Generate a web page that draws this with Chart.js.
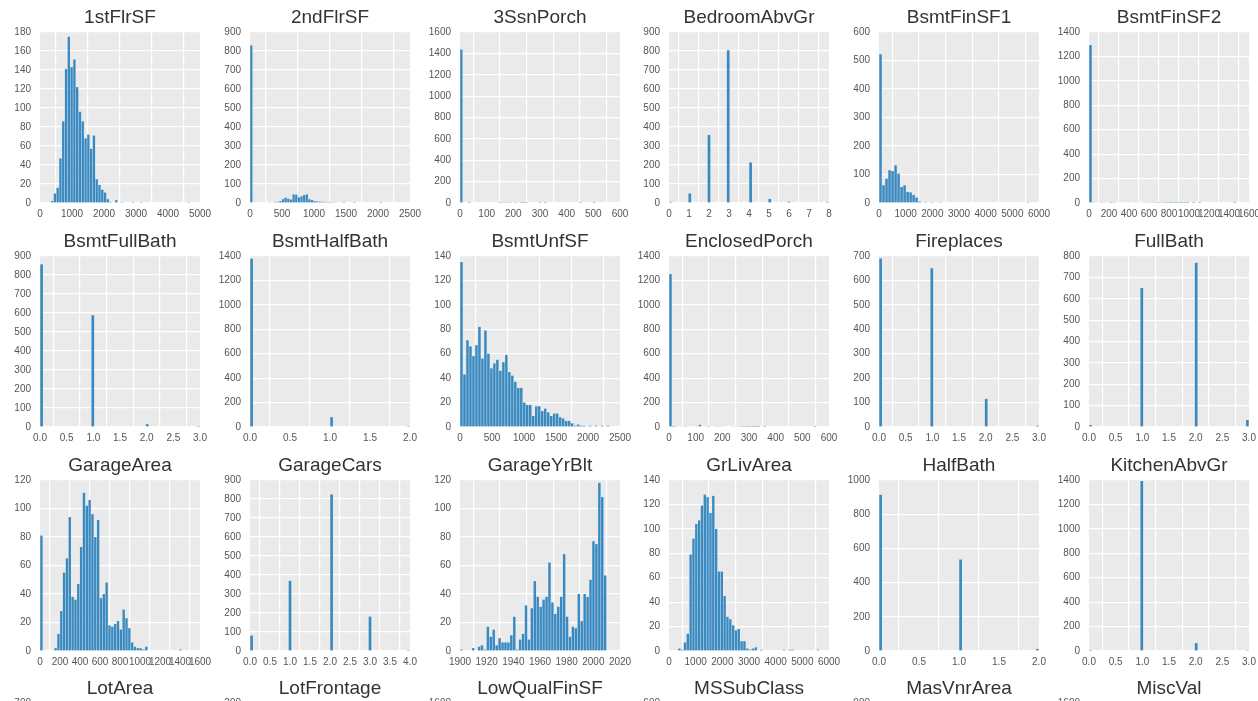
<!DOCTYPE html>
<html>
<head>
<meta charset="utf-8">
<script src="https://cdn.jsdelivr.net/npm/chart.js@4.4.1/dist/chart.umd.min.js"></script>
<style>
  html, body { margin: 0; padding: 0; background: #fff; }
  #fig { position: relative; width: 1258px; height: 701px; overflow: hidden; }
  #fig canvas { position: absolute; }
</style>
</head>
<body>
<div id="fig"></div>
<script>
// --- data: one histogram (50 bins over [min, max]) per column ---
const names = [
  "1stFlrSF", "2ndFlrSF", "3SsnPorch", "BedroomAbvGr", "BsmtFinSF1", "BsmtFinSF2",
  "BsmtFullBath", "BsmtHalfBath", "BsmtUnfSF", "EnclosedPorch", "Fireplaces", "FullBath",
  "GarageArea", "GarageCars", "GarageYrBlt", "GrLivArea", "HalfBath", "KitchenAbvGr",
  "LotArea", "LotFrontage", "LowQualFinSF", "MSSubClass", "MasVnrArea", "MiscVal",
];
const dataMin = [334, 0, 0, 0, 0, 0, 0, 0, 0, 0, 0, 0, 0, 0, 1900, 334, 0, 0, 1300, 21, 0, 20, 0, 0];
const dataMax = [4692, 2065, 508, 8, 5644, 1474, 3, 2, 2336, 552, 3, 3, 1418, 4, 2010, 5642, 2, 3, 215245, 313, 572, 190, 1600, 15500];
// x axis [min, max, step]
const xTicks = [
  [0, 5000, 1000], [0, 2500, 500], [0, 600, 100], [0, 8, 1], [0, 6000, 1000], [0, 1600, 200],
  [0, 3, 0.5], [0, 2, 0.5], [0, 2500, 500], [0, 600, 100], [0, 3, 0.5], [0, 3, 0.5],
  [0, 1600, 200], [0, 4, 0.5], [1900, 2020, 20], [0, 6000, 1000], [0, 2, 0.5], [0, 3, 0.5],
  [0, 250000, 50000], [0, 350, 50], [0, 600, 100], [0, 200, 20], [0, 1600, 200], [0, 16000, 2000],
];
// y axis [max, step]
const yTicks = [
  [180, 20], [900, 100], [1600, 200], [900, 100], [600, 100], [1400, 200],
  [900, 100], [1400, 200], [140, 20], [1400, 200], [700, 100], [800, 100],
  [120, 20], [900, 100], [120, 20], [140, 20], [1000, 200], [1400, 200],
  [700, 100], [200, 50], [1600, 200], [600, 100], [900, 100], [1600, 200],
];

const c1stFlrSF = [2,10,16,47,86,141,175,143,151,122, 96,86,68,72,57,71,25,19,14,11, 4,1,0,3,0,1,0,0,0,1, 0,0,1,0,0,0,0,0,0,0, 0,0,0,0,0,0,0,0,0,1];
const c2ndFlrSF = [829,0,0,0,0,0,0,2,3,5, 6,10,20,28,22,18,45,44,30,35, 42,45,20,15,10,8,7,6,5,5, 5,4,4,3,0,1,0,0,0,1, 0,0,0,0,0,0,0,0,0,1];
const c3SsnPorch = [1436,0,0,1,0,0,0,0,0,0, 0,0,0,0,2,3,4,3,2,0, 2,0,2,1,1,0,0,0,0,1, 0,1,0,0,0,0,0,0,0,0, 0,0,0,0,1,0,0,0,0,1];
const cBedroomAbvGr = [6,0,0,0,0,0,50,0,0,0, 0,0,358,0,0,0,0,0,804,0, 0,0,0,0,0,213,0,0,0,0, 0,21,0,0,0,0,0,7,0,0, 0,0,0,0,0,0,0,0,0,1];
const cBsmtFinSF1 = [522,62,85,115,112,132,103,56,62,39, 37,28,19,5,2,1,0,1,0,0, 1,0,0,0,0,0,0,0,0,0, 0,0,0,0,0,0,0,0,0,0, 0,0,0,0,0,0,0,0,0,1];
const cBsmtFinSF2 = [1293,3,5,6,7,6,6,8,7,5, 6,5,6,6,5,4,4,5,4,3, 4,3,3,2,3,2,2,1,2,1, 1,1,1,1,0,1,0,1,0,0, 0,0,0,0,0,0,0,0,0,1];
const cBsmtFullBath = [856,0,0,0,0,0,0,0,0,0, 0,0,0,0,0,0,588,0,0,0, 0,0,0,0,0,0,0,0,0,0, 0,0,0,15,0,0,0,0,0,0, 0,0,0,0,0,0,0,0,0,1];
const cBsmtHalfBath = [1378,0,0,0,0,0,0,0,0,0, 0,0,0,0,0,0,0,0,0,0, 0,0,0,0,0,80,0,0,0,0, 0,0,0,0,0,0,0,0,0,0, 0,0,0,0,0,0,0,0,0,2];
const cBsmtUnfSF = [135,43,71,66,58,67,82,56,79,60, 48,52,55,46,53,59,45,42,37,32, 32,20,18,18,9,17,17,13,15,12, 9,11,11,8,7,5,5,3,1,2, 1,1,0,1,0,1,0,1,0,1];
const cEnclosedPorch = [1252,1,3,5,6,3,4,5,6,6, 18,5,6,8,5,6,7,4,6,5, 5,4,4,3,2,2,1,2,1,1, 1,0,1,0,0,0,0,0,0,0, 0,0,0,0,0,0,0,0,0,1];
const cFireplaces = [690,0,0,0,0,0,0,0,0,0, 0,0,0,0,0,0,650,0,0,0, 0,0,0,0,0,0,0,0,0,0, 0,0,0,115,0,0,0,0,0,0, 0,0,0,0,0,0,0,0,0,5];
const cFullBath = [9,0,0,0,0,0,0,0,0,0, 0,0,0,0,0,0,650,0,0,0, 0,0,0,0,0,0,0,0,0,0, 0,0,0,768,0,0,0,0,0,0, 0,0,0,0,0,0,0,0,0,33];
const cGarageArea = [81,0,0,0,0,2,12,28,55,65, 94,38,36,47,73,111,102,106,96,80, 92,37,40,48,18,17,19,21,15,29, 23,16,6,3,2,2,1,3,0,0, 0,0,0,0,0,0,0,0,0,1];
const cGarageCars = [81,0,0,0,0,0,0,0,0,0, 0,0,369,0,0,0,0,0,0,0, 0,0,0,0,0,824,0,0,0,0, 0,0,0,0,0,0,0,181,0,0, 0,0,0,0,0,0,0,0,0,5];
const cGarageYrBlt = [1,0,0,0,2,0,3,4,1,17, 10,15,4,9,6,6,6,11,24,1, 8,12,32,8,30,49,38,31,36,38, 62,34,26,31,38,68,24,10,17,16, 40,21,40,38,50,77,75,118,108,53];
const cGrLivArea = [2,1,7,14,79,92,104,107,119,128, 126,113,127,100,65,65,45,28,26,21, 17,18,8,8,2,1,2,3,0,1, 0,0,0,0,0,0,0,1,0,1, 1,0,0,0,0,0,0,0,0,1];
const cHalfBath = [913,0,0,0,0,0,0,0,0,0, 0,0,0,0,0,0,0,0,0,0, 0,0,0,0,0,535,0,0,0,0, 0,0,0,0,0,0,0,0,0,0, 0,0,0,0,0,0,0,0,0,12];
const cKitchenAbvGr = [1,0,0,0,0,0,0,0,0,0, 0,0,0,0,0,0,1392,0,0,0, 0,0,0,0,0,0,0,0,0,0, 0,0,0,65,0,0,0,0,0,0, 0,0,0,0,0,0,0,0,0,2];
// bottom row is cut off by the frame; only the leading bins are listed
const cLotArea = [138,690,470,90,30,12,6,3,2,2,1,1];
const cLotFrontage = [10,12,25,30,70,60,95,180,100,147,125,140,75,60,40,25,20,12,8,5,4,3,2,1,1,1];
const cLowQualFinSF = [1434,0,0,1,1,2,1,3,2,1];
const cMSSubClass = [536,0,69,0,0,4,0,12,144,0, 0,299,0,0,60,0,16,58,0,20, 52,0,0,0,0,0,0,0,0,87];
const cMasVnrArea = [870,45,52,48,60,50,40,35,30,28,20,18,12,10,8];
const cMiscVal = [1452,5,1,1,0,0,0,0,0,0];

const counts = [
  c1stFlrSF, c2ndFlrSF, c3SsnPorch, cBedroomAbvGr, cBsmtFinSF1, cBsmtFinSF2,
  cBsmtFullBath, cBsmtHalfBath, cBsmtUnfSF, cEnclosedPorch, cFireplaces, cFullBath,
  cGarageArea, cGarageCars, cGarageYrBlt, cGrLivArea, cHalfBath, cKitchenAbvGr,
  cLotArea, cLotFrontage, cLowQualFinSF, cMSSubClass, cMasVnrArea, cMiscVal,
];
const NBINS = 50;

// --- layout (px) ---
const AX_LEFT = 40, COL_STEP = 209.8, AX_TOP = 32, ROW_STEP = 223.8;
const AX_W = 160, AX_H = 171, Y_W = 40, X_H = 21, PAD_R = 30;

Chart.defaults.font.family = "'Liberation Sans', Arial, sans-serif";

const panelBg = {
  id: "panelBg",
  beforeDraw(chart) {
    const { ctx, chartArea: a } = chart;
    ctx.save();
    ctx.fillStyle = "#EAEAEA";
    ctx.fillRect(a.left, a.top, a.right - a.left, a.bottom - a.top);
    ctx.restore();
  },
};

const fig = document.getElementById("fig");
const tickFont = { size: 10 };

names.forEach((name, i) => {
  const col = i % 6, row = Math.floor(i / 6);
  const cv = document.createElement("canvas");
  cv.width = Y_W + AX_W + PAD_R;
  cv.height = AX_TOP + AX_H + X_H;
  cv.style.left = Math.round(AX_LEFT + col * COL_STEP - Y_W) + "px";
  cv.style.top = Math.round(AX_TOP + row * ROW_STEP - AX_TOP) + "px";
  fig.appendChild(cv);

  const w = (dataMax[i] - dataMin[i]) / NBINS;
  const pts = counts[i].map((c, k) => ({ x: dataMin[i] + (k + 0.5) * w, y: c }));
  const [xmin, xmax, xstep] = xTicks[i];
  const [ymax, ystep] = yTicks[i];

  new Chart(cv, {
    type: "bar",
    data: { datasets: [{ data: pts, backgroundColor: "#3A8AC2", borderWidth: 0,
      barPercentage: 0.84, categoryPercentage: 1 }] },
    options: {
      responsive: false, animation: false, devicePixelRatio: 1,
      layout: { padding: { left: 0, right: PAD_R, top: 0, bottom: 0 } },
      plugins: {
        legend: { display: false }, tooltip: { enabled: false },
        title: { display: true, text: name, fullSize: false, color: "#333",
          font: { size: 19, weight: "normal", lineHeight: 1.2 },
          padding: { top: 6.6, bottom: 2.6 } },
      },
      scales: {
        x: {
          type: "linear", min: xmin, max: xmax, offset: false,
          grid: { color: "#fff", lineWidth: 1.2, drawTicks: false },
          border: { display: false },
          ticks: { stepSize: xstep, autoSkip: false, maxRotation: 0, minRotation: 0,
            padding: 5, color: "#555", font: tickFont,
            callback: (v) => (xstep < 1 ? v.toFixed(1) : String(v)) },
          afterFit: (s) => { s.height = X_H; },
        },
        y: {
          min: 0, max: ymax,
          grid: { color: "#fff", lineWidth: 1.2, drawTicks: false },
          border: { display: false },
          ticks: { stepSize: ystep, padding: 9, color: "#555", font: tickFont,
            callback: (v) => String(v) },
          afterFit: (s) => { s.width = Y_W; },
        },
      },
    },
    plugins: [panelBg],
  });
});
</script>
</body>
</html>
